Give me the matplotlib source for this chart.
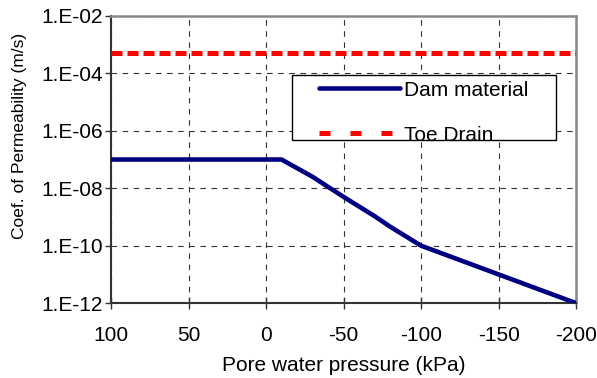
import matplotlib
matplotlib.use("Agg")
import matplotlib.pyplot as plt
from matplotlib.lines import Line2D
from matplotlib.patches import Rectangle

plt.rcParams['font.family'] = ['Liberation Sans', 'DejaVu Sans']

# Data
dam_pressure = [100, -10, -30, -50, -70, -80, -100, -150, -200]
dam_k = [1e-7, 1e-7, 2.5e-8, 5e-9, 1.07e-9, 4.6e-10, 1e-10, 1e-11, 1e-12]
toe_pressure = [100, -200]
toe_k = [5e-4, 5e-4]

x_ticks = [100, 50, 0, -50, -100, -150, -200]
y_ticks = [1e-12, 1e-10, 1e-8, 1e-6, 1e-4, 1e-2]
y_tick_labels = ["1.E-12", "1.E-10", "1.E-08", "1.E-06", "1.E-04", "1.E-02"]

fs = 15

fig = plt.figure(figsize=(5.97, 3.78), dpi=100)
ax = fig.add_axes([0.186, 0.198, 0.779, 0.760])

dam_line, = ax.plot(dam_pressure, dam_k, color='#000080', lw=3.3,
                    solid_capstyle='round', zorder=3)
toe_line, = ax.plot(toe_pressure, toe_k, color='#ff0000', lw=3.6,
                    dashes=(2.2, 1.0), dash_capstyle='butt', zorder=3)

ax.set_yscale('log')
ax.set_xlim(100, -200)
ax.set_ylim(1e-12, 1e-2)
ax.set_xticks(x_ticks)
ax.set_xticklabels([str(v) for v in x_ticks])
ax.set_yticks(y_ticks)
ax.set_yticklabels(y_tick_labels)
ax.yaxis.set_minor_locator(matplotlib.ticker.NullLocator())

ax.grid(True, which='major', color='#333333', lw=0.8, linestyle=(0, (5, 5)))
ax.set_axisbelow(True)

ax.tick_params(axis='y', direction='out', length=4, width=1, labelsize=fs, pad=2, color='#333333')
ax.tick_params(axis='x', direction='inout', length=9, width=1, labelsize=fs, pad=12, color='#333333')

for s in ['left', 'bottom']:
    ax.spines[s].set_color('#333333')
    ax.spines[s].set_linewidth(1.5)
for s in ['top', 'right']:
    ax.spines[s].set_color('#888888')
    ax.spines[s].set_linewidth(1.8)

ax.set_xlabel('Pore water pressure (kPa)', fontsize=fs, labelpad=8)
ax.set_ylabel('Coef. of Permeability (m/s)', fontsize=12.5)
ax.yaxis.set_label_coords(-0.181, 0.582)

# legend box
box = Rectangle((0.389, 0.568), 0.568, 0.226, transform=ax.transAxes,
                facecolor='white', edgecolor='black', lw=1.0, zorder=4)
ax.add_patch(box)
toe_handle = Line2D([], [], color='#ff0000', lw=3.6, dashes=(2.2, 4.0), dash_capstyle='butt')
leg = ax.legend([dam_line, toe_handle], ['Dam material', 'Toe Drain'],
                loc='upper left', bbox_to_anchor=(0.447, 0.775),
                frameon=False, fontsize=fs, handlelength=3.9, handletextpad=0.2,
                labelspacing=1.25, borderpad=0, borderaxespad=0)
leg.set_zorder(5)

fig.savefig('out.png', dpi=100)
